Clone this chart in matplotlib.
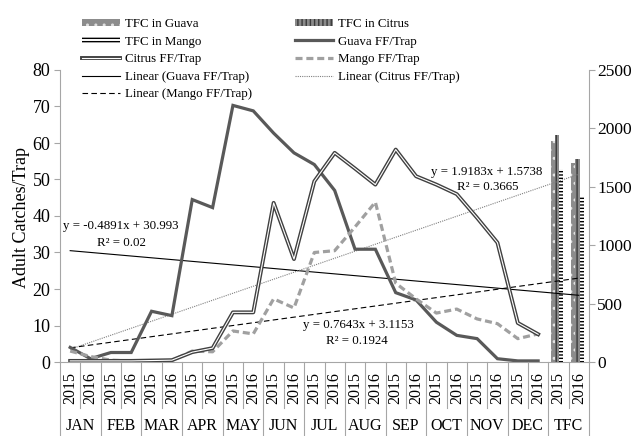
import numpy as np
import matplotlib
matplotlib.use('Agg')
import matplotlib.pyplot as plt
from matplotlib.legend_handler import HandlerTuple

plt.rcParams['font.family'] = ['Liberation Serif', 'DejaVu Serif']
plt.rcParams['hatch.linewidth'] = 1.0

# categories: two years per month, then the TFC pair
months = ['JAN', 'FEB', 'MAR', 'APR', 'MAY', 'JUN', 'JUL', 'AUG', 'SEP', 'OCT', 'NOV', 'DEC', 'TFC']
years = ['2015', '2016']

# monthly fruit fly catches per trap (2015, 2016 for each month)
guava_ff = [4.0, 0.9, 2.6, 2.6, 13.9, 12.7, 44.5, 42.3, 70.3, 68.8, 62.7, 57.3,
            54.1, 47.0, 30.9, 30.9, 19.0, 17.0, 10.9, 7.3, 6.4, 0.9, 0.3, 0.3]
citrus_ff = [0.3, 0.3, 0.3, 0.3, 0.4, 0.5, 2.7, 3.8, 13.6, 13.6, 43.6, 28.2,
             49.5, 57.3, 53.0, 48.6, 58.2, 50.9, 48.6, 46.0, 39.5, 32.7, 10.7, 7.6]
mango_ff = [3.0, 1.5, 0.5, 0.3, 0.3, 0.4, 3.0, 2.8, 8.5, 7.7, 17.3, 14.8,
            30.0, 30.5, 37.0, 43.8, 21.6, 17.3, 13.4, 14.5, 11.8, 10.5, 6.4, 7.7]

# total fly catches (2015, 2016), right axis
tfc_guava = [1890, 1700]
tfc_citrus = [1940, 1742]
tfc_mango = [1650, 1420]

# linear trend lines shown on the chart (slope, intercept, R2)
trend_guava = (-0.4891, 30.993, '0.02')
trend_citrus = (1.9183, 1.5738, '0.3665')
trend_mango = (0.7643, 3.1153, '0.1924')

n_cat = len(months) * 2
x_line = np.arange(len(guava_ff))
x_trend = np.arange(n_cat)

fig = plt.figure(figsize=(6.33, 4.36), dpi=100)
ax = fig.add_axes([60 / 633, 74 / 436, 529 / 633, 292 / 436])
ax2 = ax.twinx()

axis_grey = '#a6a6a6'

# bars for TFC on the right axis
xb = np.array([24, 25]) - 0.07
bw = 0.21
b_g = ax2.bar(xb - bw, tfc_guava, bw, color='#8c8c8c', hatch='..', edgecolor='#e0e0e0', linewidth=0)
b_c = ax2.bar(xb, tfc_citrus, bw, color='#8a8a8a', hatch='||||', edgecolor='#3a3a3a', linewidth=0)
b_m = ax2.bar(xb + bw, tfc_mango, bw, color='white', hatch='-----', edgecolor='black', linewidth=0)
ax2.set_ylim(0, 2500)
ax2.set_yticks(range(0, 2501, 500))

# trend lines
tg = ax.plot(x_trend, trend_guava[0] * (x_trend + 1) + trend_guava[1], color='black', lw=0.8)[0]
tc = ax.plot(x_trend, trend_citrus[0] * (x_trend + 1) + trend_citrus[1], color='#808080', lw=0.8,
             linestyle=(0, (1, 1)))[0]
tm = ax.plot(x_trend, trend_mango[0] * (x_trend + 1) + trend_mango[1], color='black', lw=0.8,
             linestyle=(0, (5, 3)))[0]

# data lines
lg = ax.plot(x_line, guava_ff, color='#595959', lw=2.3, solid_joinstyle='miter')[0]
lm = ax.plot(x_line, mango_ff, color='#a0a0a0', lw=2.3, dashes=(2.2, 1.2))[0]
lc1 = ax.plot(x_line, citrus_ff, color='#404040', lw=2.8)[0]
lc2 = ax.plot(x_line, citrus_ff, color='white', lw=0.8)[0]

ax.set_zorder(ax2.get_zorder() + 1)
ax.patch.set_visible(False)

ax.set_xlim(-0.5, n_cat - 0.5)
ax.set_ylim(0, 80)
ax.set_yticks(range(0, 81, 10))

# trend equations
def eq_text(t):
    sign = '+' if t[1] >= 0 else '-'
    return 'y = %gx %s %g' % (t[0], sign, abs(t[1]))

fs_eq = 9.3
ax.text(2.5, 37.3, eq_text(trend_guava), ha='center', va='center', fontsize=fs_eq)
ax.text(2.5, 32.7, 'R² = ' + trend_guava[2], ha='center', va='center', fontsize=fs_eq)
ax.text(20.45, 52.1, eq_text(trend_citrus), ha='center', va='center', fontsize=fs_eq)
ax.text(20.5, 48.0, 'R² = ' + trend_citrus[2], ha='center', va='center', fontsize=fs_eq)
ax.text(14.15, 10.1, eq_text(trend_mango), ha='center', va='center', fontsize=fs_eq)
ax.text(14.1, 5.8, 'R² = ' + trend_mango[2], ha='center', va='center', fontsize=fs_eq)

# axes styling
for a in (ax, ax2):
    a.spines['top'].set_visible(False)
    for s in ('left', 'right', 'bottom'):
        a.spines[s].set_color(axis_grey)
ax.spines['right'].set_visible(False)
ax2.spines['left'].set_visible(False)
ax2.spines['bottom'].set_visible(False)
ax.tick_params(axis='y', direction='out', length=4, color=axis_grey, labelsize=13, pad=3)
ax2.tick_params(axis='y', direction='out', length=4, color=axis_grey, labelsize=12.5, pad=2)

# category axis: years and months
ax.set_xticks(np.arange(n_cat))
ax.set_xticklabels(years * len(months), rotation=90, fontsize=11.5)
ax.tick_params(axis='x', length=0, pad=7)
xt = ax.get_xaxis_transform()
for k in range(n_cat + 1):
    y_end = -0.2534 if k % 2 == 0 else -0.1575
    ax.plot([k - 0.5, k - 0.5], [0, y_end], transform=xt, color=axis_grey, lw=0.8, clip_on=False)
for m, name in enumerate(months):
    ax.text(2 * m + 0.5, -0.248, name, transform=xt, ha='center', va='bottom', fontsize=11.5)

fig.text(22 / 633, 1 - 217 / 436, 'Adult Catches/Trap', rotation=90, ha='center', va='center',
         fontsize=13)

handles = [b_g, b_m, (lc1, lc2), tg, tm, b_c, lg, lm, tc]
labels = ['TFC in Guava', 'TFC in Mango', 'Citrus FF/Trap', 'Linear (Guava FF/Trap)',
          'Linear (Mango FF/Trap)', 'TFC in Citrus', 'Guava FF/Trap', 'Mango FF/Trap',
          'Linear (Citrus FF/Trap)']
fig.legend(handles, labels, ncol=2, loc='upper left', bbox_to_anchor=(82 / 633, 1 - 18 / 436),
           frameon=False, fontsize=9.3, borderpad=0, borderaxespad=0, handlelength=2.95,
           handleheight=0.5, handletextpad=0.4, labelspacing=0.43, columnspacing=3.3,
           handler_map={tuple: HandlerTuple(ndivide=1)})

fig.savefig('out.png', dpi=100)
